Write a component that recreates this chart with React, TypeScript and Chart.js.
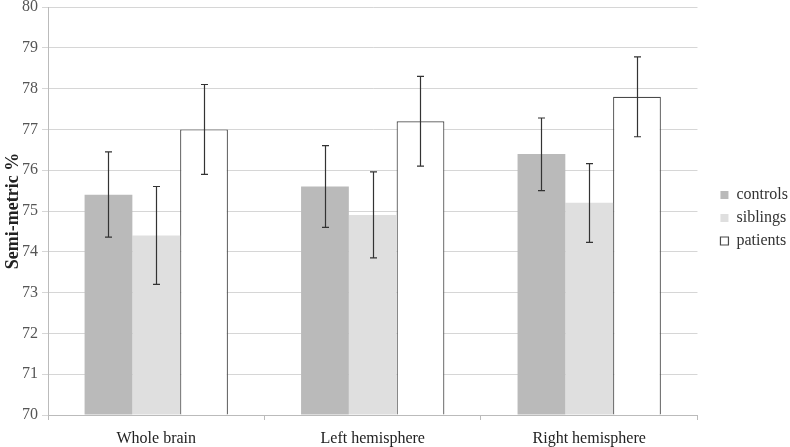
import React, { useEffect, useRef } from "react";
import { Chart, registerables } from "chart.js";

Chart.register(...registerables);

const categories = ["Whole brain", "Left hemisphere", "Right hemisphere"];
const seriesNames = ["controls", "siblings", "patients"];
const controls = [75.4, 75.6, 76.4];
const siblings = [74.4, 74.9, 75.2];
const patients = [77.0, 77.2, 77.8];
const controlsLow = [74.36, 74.6, 75.5];
const controlsHigh = [76.45, 76.6, 77.28];
const siblingsLow = [73.2, 73.85, 74.23];
const siblingsHigh = [75.6, 75.96, 76.16];
const patientsLow = [75.9, 76.1, 76.82];
const patientsHigh = [78.1, 78.3, 78.78];
const yTicks = [70, 71, 72, 73, 74, 75, 76, 77, 78, 79, 80];

const errLows = [controlsLow, siblingsLow, patientsLow];
const errHighs = [controlsHigh, siblingsHigh, patientsHigh];

const errorBarPlugin = {
  id: "errorBars",
  afterDatasetsDraw(chart: any) {
    const ctx = chart.ctx;
    const yScale = chart.scales.y;
    ctx.save();
    ctx.strokeStyle = "#333";
    ctx.lineWidth = 1.2;
    chart.data.datasets.forEach((_ds: any, i: number) => {
      const meta = chart.getDatasetMeta(i);
      meta.data.forEach((el: any, j: number) => {
        const x = Math.round(el.x) + 0.5;
        const yl = yScale.getPixelForValue(errLows[i][j]);
        const yh = yScale.getPixelForValue(errHighs[i][j]);
        ctx.beginPath();
        ctx.moveTo(x, yl);
        ctx.lineTo(x, yh);
        ctx.moveTo(x - 3.5, yl);
        ctx.lineTo(x + 3.5, yl);
        ctx.moveTo(x - 3.5, yh);
        ctx.lineTo(x + 3.5, yh);
        ctx.stroke();
      });
    });
    ctx.restore();
  },
};

export default function App() {
  const ref = useRef<HTMLCanvasElement>(null);
  useEffect(() => {
    if (!ref.current) return;
    const font = "'Liberation Serif', 'Times New Roman', serif";
    Chart.defaults.font.family = font;
    const chart = new Chart(ref.current, {
      type: "bar",
      data: {
        labels: categories,
        datasets: [
          {
            label: seriesNames[0],
            data: controls,
            backgroundColor: "#bababa",
            borderWidth: 0,
            base: 70,
          },
          {
            label: seriesNames[1],
            data: siblings,
            backgroundColor: "#dfdfdf",
            borderWidth: 0,
            base: 70,
          },
          {
            label: seriesNames[2],
            data: patients,
            backgroundColor: "#ffffff",
            borderColor: "#4a4a4a",
            borderWidth: 1.2,
            borderSkipped: "bottom",
            base: 70,
          },
        ] as any,
      },
      options: {
        animation: false,
        responsive: true,
        maintainAspectRatio: false,
        layout: { padding: { top: 0, right: 0, left: 2, bottom: 0 } },
        datasets: { bar: { categoryPercentage: 0.662, barPercentage: 1 } } as any,
        plugins: {
          legend: {
            position: "right",
            align: "center",
            fullSize: false,
            title: {
              display: true,
              text: "",
              font: { family: font, size: 10 },
              padding: { top: 0, bottom: 2 },
            },
            labels: {
              font: { family: font, size: 16 },
              color: "#333",
              boxWidth: 8,
              boxHeight: 8,
              padding: 7,
            },
          },
          tooltip: { enabled: false },
        },
        scales: {
          x: {
            offset: true,
            afterFit: (axis: any) => {
              axis.height = 32;
            },
            grid: {
              display: true,
              drawOnChartArea: false,
              drawTicks: true,
              tickLength: 5,
              color: "#bbbbbb",
              offset: true,
            },
            border: { color: "#bbbbbb" },
            ticks: {
              font: { family: font, size: 16 },
              color: "#222",
              padding: 9,
            },
          },
          y: {
            min: 70,
            max: 80,
            afterBuildTicks: (axis: any) => {
              axis.ticks = yTicks.map((v) => ({ value: v }));
            },
            afterFit: (axis: any) => {
              axis.width = 46;
              axis.paddingTop = 7;
            },
            grid: { color: "#d6d6d6", tickLength: 6, lineWidth: 1 },
            border: { color: "#bbbbbb" },
            ticks: {
              font: { family: font, size: 16 },
              color: "#555",
              padding: 4,
            },
            title: {
              display: true,
              text: "Semi-metric %",
              font: { family: font, size: 18, weight: "bold" },
              color: "#222",
              padding: { top: 1, bottom: 0 },
            },
          },
          spacer: {
            type: "linear",
            position: "right",
            display: true,
            min: 0,
            max: 1,
            afterFit: (axis: any) => {
              axis.width = 16;
            },
            grid: { display: false, drawTicks: false },
            border: { display: false },
            ticks: { display: false },
          },
        } as any,
      },
      plugins: [errorBarPlugin],
    });
    return () => chart.destroy();
  }, []);
  return (
    <div style={{ position: "fixed", left: 0, top: 0, width: 790, height: 447, overflow: "hidden" }}>
      <div style={{ position: "absolute", left: 0, top: 0, width: 798, height: 447 }}>
        <canvas ref={ref} />
      </div>
    </div>
  );
}
